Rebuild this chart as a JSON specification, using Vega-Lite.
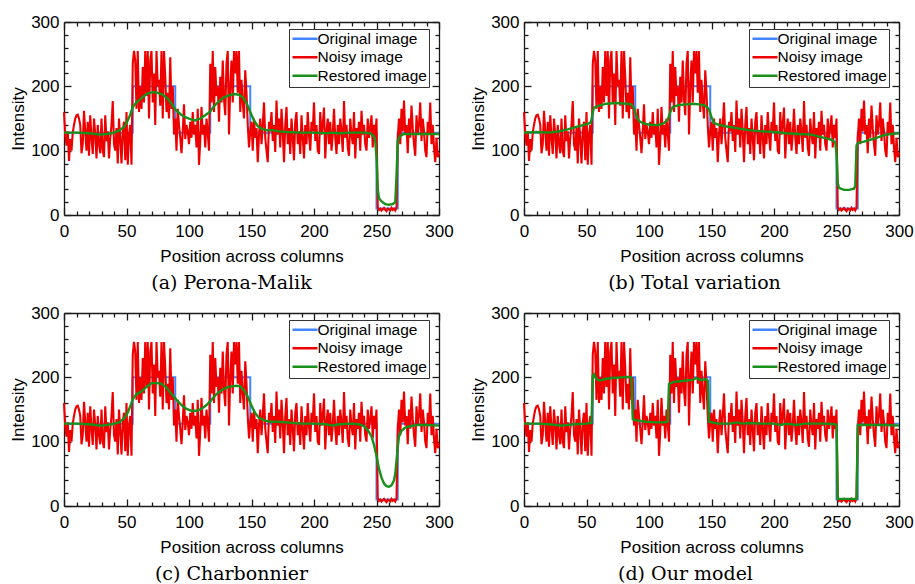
{
  "$schema": "https://vega.github.io/schema/vega-lite/v6.json",
  "background": "white",
  "padding": {"left": 9, "top": 13, "right": 0, "bottom": 0},
  "datasets": {
    "noisy": [
      {"col":0,"val":160},{"col":1,"val":125},{"col":2,"val":108},{"col":3,"val":130},{"col":4,"val":84},{"col":5,"val":118},{"col":6,"val":100},{"col":7,"val":128},{"col":8,"val":140},{"col":9,"val":150},
      {"col":10,"val":155},{"col":11,"val":156},{"col":12,"val":150},{"col":13,"val":140},{"col":14,"val":96},{"col":15,"val":110},{"col":16,"val":162},{"col":17,"val":130},{"col":18,"val":100},{"col":19,"val":145},
      {"col":20,"val":92},{"col":21,"val":155},{"col":22,"val":120},{"col":23,"val":95},{"col":24,"val":150},{"col":25,"val":125},{"col":26,"val":88},{"col":27,"val":140},{"col":28,"val":110},{"col":29,"val":96},
      {"col":30,"val":150},{"col":31,"val":100},{"col":32,"val":90},{"col":33,"val":155},{"col":34,"val":115},{"col":35,"val":130},{"col":36,"val":88},{"col":37,"val":120},{"col":38,"val":140},{"col":39,"val":177},
      {"col":40,"val":110},{"col":41,"val":100},{"col":42,"val":135},{"col":43,"val":80},{"col":44,"val":150},{"col":45,"val":118},{"col":46,"val":80},{"col":47,"val":130},{"col":48,"val":145},{"col":49,"val":85},
      {"col":50,"val":160},{"col":51,"val":78},{"col":52,"val":125},{"col":53,"val":140},{"col":54,"val":78},{"col":55,"val":235},{"col":56,"val":255},{"col":57,"val":240},{"col":58,"val":165},{"col":59,"val":255},
      {"col":60,"val":160},{"col":61,"val":200},{"col":62,"val":165},{"col":63,"val":230},{"col":64,"val":175},{"col":65,"val":255},{"col":66,"val":185},{"col":67,"val":255},{"col":68,"val":150},{"col":69,"val":240},
      {"col":70,"val":255},{"col":71,"val":175},{"col":72,"val":220},{"col":73,"val":140},{"col":74,"val":255},{"col":75,"val":200},{"col":76,"val":210},{"col":77,"val":170},{"col":78,"val":255},{"col":79,"val":150},
      {"col":80,"val":255},{"col":81,"val":215},{"col":82,"val":160},{"col":83,"val":190},{"col":84,"val":150},{"col":85,"val":245},{"col":86,"val":165},{"col":87,"val":200},{"col":88,"val":125},{"col":89,"val":150},
      {"col":90,"val":100},{"col":91,"val":165},{"col":92,"val":140},{"col":93,"val":120},{"col":94,"val":96},{"col":95,"val":130},{"col":96,"val":172},{"col":97,"val":118},{"col":98,"val":140},{"col":99,"val":130},
      {"col":100,"val":110},{"col":101,"val":145},{"col":102,"val":120},{"col":103,"val":160},{"col":104,"val":125},{"col":105,"val":140},{"col":106,"val":105},{"col":107,"val":165},{"col":108,"val":78},{"col":109,"val":115},
      {"col":110,"val":168},{"col":111,"val":125},{"col":112,"val":140},{"col":113,"val":105},{"col":114,"val":150},{"col":115,"val":128},{"col":116,"val":100},{"col":117,"val":235},{"col":118,"val":175},{"col":119,"val":255},
      {"col":120,"val":160},{"col":121,"val":230},{"col":122,"val":185},{"col":123,"val":200},{"col":124,"val":145},{"col":125,"val":215},{"col":126,"val":175},{"col":127,"val":240},{"col":128,"val":180},{"col":129,"val":155},
      {"col":130,"val":235},{"col":131,"val":255},{"col":132,"val":125},{"col":133,"val":200},{"col":134,"val":240},{"col":135,"val":175},{"col":136,"val":255},{"col":137,"val":220},{"col":138,"val":255},{"col":139,"val":190},
      {"col":140,"val":255},{"col":141,"val":160},{"col":142,"val":210},{"col":143,"val":175},{"col":144,"val":150},{"col":145,"val":225},{"col":146,"val":190},{"col":147,"val":140},{"col":148,"val":105},{"col":149,"val":130},
      {"col":150,"val":145},{"col":151,"val":100},{"col":152,"val":150},{"col":153,"val":120},{"col":154,"val":135},{"col":155,"val":82},{"col":156,"val":125},{"col":157,"val":150},{"col":158,"val":110},{"col":159,"val":140},
      {"col":160,"val":175},{"col":161,"val":120},{"col":162,"val":100},{"col":163,"val":82},{"col":164,"val":145},{"col":165,"val":130},{"col":166,"val":160},{"col":167,"val":115},{"col":168,"val":140},{"col":169,"val":98},
      {"col":170,"val":178},{"col":171,"val":125},{"col":172,"val":150},{"col":173,"val":105},{"col":174,"val":165},{"col":175,"val":130},{"col":176,"val":82},{"col":177,"val":140},{"col":178,"val":168},{"col":179,"val":110},
      {"col":180,"val":135},{"col":181,"val":95},{"col":182,"val":150},{"col":183,"val":120},{"col":184,"val":85},{"col":185,"val":145},{"col":186,"val":160},{"col":187,"val":110},{"col":188,"val":130},{"col":189,"val":95},
      {"col":190,"val":155},{"col":191,"val":120},{"col":192,"val":88},{"col":193,"val":140},{"col":194,"val":110},{"col":195,"val":160},{"col":196,"val":125},{"col":197,"val":100},{"col":198,"val":145},{"col":199,"val":130},
      {"col":200,"val":175},{"col":201,"val":115},{"col":202,"val":140},{"col":203,"val":100},{"col":204,"val":95},{"col":205,"val":160},{"col":206,"val":125},{"col":207,"val":140},{"col":208,"val":167},{"col":209,"val":88},
      {"col":210,"val":130},{"col":211,"val":150},{"col":212,"val":110},{"col":213,"val":145},{"col":214,"val":100},{"col":215,"val":125},{"col":216,"val":165},{"col":217,"val":120},{"col":218,"val":95},{"col":219,"val":140},
      {"col":220,"val":110},{"col":221,"val":150},{"col":222,"val":130},{"col":223,"val":98},{"col":224,"val":177},{"col":225,"val":120},{"col":226,"val":140},{"col":227,"val":105},{"col":228,"val":92},{"col":229,"val":150},
      {"col":230,"val":125},{"col":231,"val":110},{"col":232,"val":160},{"col":233,"val":88},{"col":234,"val":135},{"col":235,"val":120},{"col":236,"val":145},{"col":237,"val":100},{"col":238,"val":162},{"col":239,"val":125},
      {"col":240,"val":140},{"col":241,"val":110},{"col":242,"val":100},{"col":243,"val":150},{"col":244,"val":120},{"col":245,"val":135},{"col":246,"val":155},{"col":247,"val":105},{"col":248,"val":140},{"col":249,"val":120},
      {"col":250,"val":150},{"col":251,"val":12},{"col":252,"val":8},{"col":253,"val":10},{"col":254,"val":7},{"col":255,"val":9},{"col":256,"val":11},{"col":257,"val":8},{"col":258,"val":6},{"col":259,"val":10},
      {"col":260,"val":9},{"col":261,"val":7},{"col":262,"val":11},{"col":263,"val":8},{"col":264,"val":10},{"col":265,"val":7},{"col":266,"val":12},{"col":267,"val":120},{"col":268,"val":150},{"col":269,"val":110},
      {"col":270,"val":165},{"col":271,"val":130},{"col":272,"val":178},{"col":273,"val":125},{"col":274,"val":140},{"col":275,"val":96},{"col":276,"val":150},{"col":277,"val":120},{"col":278,"val":170},{"col":279,"val":135},
      {"col":280,"val":110},{"col":281,"val":92},{"col":282,"val":155},{"col":283,"val":125},{"col":284,"val":140},{"col":285,"val":175},{"col":286,"val":115},{"col":287,"val":150},{"col":288,"val":130},{"col":289,"val":100},
      {"col":290,"val":90},{"col":291,"val":145},{"col":292,"val":125},{"col":293,"val":175},{"col":294,"val":110},{"col":295,"val":140},{"col":296,"val":105},{"col":297,"val":82},{"col":298,"val":120},{"col":299,"val":90},
      {"col":300,"val":97}
    ],
    "orig": [
      {"i":0,"col":0,"val":128},{"i":1,"col":55,"val":128},{"i":2,"col":55,"val":200},{"i":3,"col":89,"val":200},{"i":4,"col":89,"val":128},
      {"i":5,"col":117,"val":128},{"i":6,"col":117,"val":200},{"i":7,"col":149,"val":200},{"i":8,"col":149,"val":128},{"i":9,"col":250,"val":128},
      {"i":10,"col":250,"val":10},{"i":11,"col":267,"val":10},{"i":12,"col":267,"val":128},{"i":13,"col":300,"val":128}
    ],
    "pm": [
      {"col":0,"val":128},{"col":10,"val":128},{"col":20,"val":127},{"col":30,"val":125},{"col":38,"val":127},{"col":44,"val":131},{"col":48,"val":137},{"col":51,"val":147},{"col":53,"val":156},{"col":55,"val":168},
      {"col":58,"val":175},{"col":61,"val":180},{"col":64,"val":185},{"col":67,"val":189},{"col":71,"val":191},{"col":75,"val":190},{"col":79,"val":187},{"col":83,"val":181},{"col":86,"val":173},{"col":89,"val":164},
      {"col":93,"val":157},{"col":97,"val":152},{"col":101,"val":149},{"col":105,"val":147},{"col":109,"val":150},{"col":113,"val":155},{"col":117,"val":161},{"col":120,"val":169},{"col":124,"val":177},{"col":128,"val":183},
      {"col":132,"val":186},{"col":136,"val":188},{"col":140,"val":187},{"col":143,"val":183},{"col":146,"val":174},{"col":149,"val":160},{"col":152,"val":147},{"col":155,"val":138},{"col":158,"val":134},{"col":162,"val":132},
      {"col":167,"val":132},{"col":172,"val":130},{"col":178,"val":129},{"col":190,"val":128},{"col":200,"val":128},{"col":210,"val":127},{"col":215,"val":128},{"col":220,"val":127},{"col":230,"val":128},{"col":240,"val":128},
      {"col":245,"val":127},{"col":248,"val":122},{"col":249,"val":115},{"col":250,"val":90},{"col":251,"val":40},{"col":252,"val":26},{"col":254,"val":21},{"col":257,"val":17},{"col":260,"val":16},{"col":263,"val":17},
      {"col":265,"val":20},{"col":266,"val":60},{"col":267,"val":115},{"col":269,"val":123},{"col":272,"val":126},{"col":280,"val":126},{"col":290,"val":126},{"col":300,"val":126}
    ],
    "tv": [
      {"col":0,"val":128},{"col":10,"val":129},{"col":20,"val":128},{"col":28,"val":130},{"col":35,"val":133},{"col":42,"val":137},{"col":48,"val":140},{"col":53,"val":143},{"col":54,"val":148},{"col":55,"val":160},
      {"col":56,"val":167},{"col":60,"val":170},{"col":66,"val":173},{"col":74,"val":174},{"col":82,"val":173},{"col":86,"val":172},{"col":88,"val":166},{"col":90,"val":153},{"col":92,"val":146},{"col":96,"val":142},
      {"col":102,"val":140},{"col":108,"val":140},{"col":112,"val":143},{"col":115,"val":148},{"col":117,"val":160},{"col":119,"val":168},{"col":124,"val":171},{"col":130,"val":172},{"col":135,"val":173},{"col":140,"val":172},
      {"col":145,"val":170},{"col":148,"val":164},{"col":150,"val":152},{"col":152,"val":143},{"col":156,"val":140},{"col":161,"val":138},{"col":170,"val":135},{"col":180,"val":132},{"col":190,"val":130},{"col":200,"val":129},
      {"col":210,"val":127},{"col":220,"val":126},{"col":230,"val":125},{"col":240,"val":120},{"col":246,"val":117},{"col":249,"val":113},{"col":250,"val":95},{"col":251,"val":50},{"col":252,"val":42},{"col":256,"val":39},
      {"col":260,"val":39},{"col":264,"val":41},{"col":265,"val":45},{"col":266,"val":108},{"col":267,"val":112},{"col":272,"val":114},{"col":277,"val":117},{"col":282,"val":120},{"col":288,"val":124},{"col":294,"val":126},
      {"col":300,"val":127}
    ],
    "ch": [
      {"col":0,"val":128},{"col":10,"val":128},{"col":20,"val":127},{"col":30,"val":125},{"col":38,"val":127},{"col":44,"val":130},{"col":48,"val":136},{"col":51,"val":145},{"col":53,"val":155},{"col":55,"val":166},
      {"col":58,"val":174},{"col":62,"val":178},{"col":66,"val":185},{"col":70,"val":191},{"col":74,"val":191},{"col":78,"val":190},{"col":82,"val":184},{"col":86,"val":174},{"col":90,"val":165},{"col":94,"val":157},
      {"col":98,"val":151},{"col":102,"val":148},{"col":106,"val":148},{"col":110,"val":151},{"col":114,"val":157},{"col":118,"val":165},{"col":122,"val":174},{"col":126,"val":180},{"col":130,"val":184},{"col":134,"val":186},
      {"col":138,"val":187},{"col":141,"val":186},{"col":144,"val":180},{"col":147,"val":170},{"col":150,"val":156},{"col":153,"val":144},{"col":156,"val":137},{"col":160,"val":133},{"col":165,"val":131},{"col":170,"val":131},
      {"col":178,"val":130},{"col":190,"val":128},{"col":200,"val":128},{"col":210,"val":127},{"col":215,"val":125},{"col":220,"val":127},{"col":230,"val":128},{"col":236,"val":127},{"col":240,"val":124},{"col":243,"val":118},
      {"col":246,"val":108},{"col":248,"val":95},{"col":250,"val":78},{"col":252,"val":58},{"col":254,"val":44},{"col":256,"val":35},{"col":258,"val":31},{"col":260,"val":30},{"col":262,"val":32},{"col":264,"val":40},
      {"col":265,"val":50},{"col":266,"val":70},{"col":267,"val":92},{"col":268,"val":108},{"col":270,"val":117},{"col":273,"val":122},{"col":277,"val":124},{"col":283,"val":126},{"col":290,"val":126},{"col":300,"val":125}
    ],
    "ours": [
      {"col":0,"val":128},{"col":10,"val":128},{"col":20,"val":127},{"col":30,"val":125},{"col":40,"val":127},{"col":50,"val":128},{"col":54,"val":129},{"col":55,"val":203},{"col":56,"val":205},{"col":58,"val":197},
      {"col":61,"val":195},{"col":64,"val":197},{"col":70,"val":199},{"col":78,"val":200},{"col":85,"val":201},{"col":86,"val":199},{"col":87,"val":135},{"col":90,"val":133},{"col":98,"val":131},{"col":105,"val":130},
      {"col":112,"val":130},{"col":115,"val":131},{"col":116,"val":190},{"col":120,"val":193},{"col":125,"val":194},{"col":130,"val":195},{"col":135,"val":196},{"col":138,"val":199},{"col":141,"val":196},{"col":146,"val":197},
      {"col":147,"val":195},{"col":148,"val":131},{"col":155,"val":128},{"col":165,"val":128},{"col":170,"val":130},{"col":175,"val":128},{"col":180,"val":129},{"col":190,"val":128},{"col":200,"val":128},{"col":205,"val":126},
      {"col":210,"val":128},{"col":218,"val":126},{"col":225,"val":128},{"col":240,"val":128},{"col":249,"val":127},{"col":250,"val":126},{"col":251,"val":11},{"col":258,"val":11},{"col":266,"val":11},{"col":267,"val":126},
      {"col":275,"val":126},{"col":290,"val":126},{"col":300,"val":125}
    ]
  },
  "columns": 2,
  "spacing": {"row": 98, "column": 85},
  "bounds": "flush",
  "resolve": {"scale": {"color": "independent"}},
  "concat": [
    {
      "width": 375, "height": 193,
      "title": {"text": "(a) Perona-Malik", "dx": -20},
      "layer": [
        {"data": {"name": "orig"}, "mark": {"type": "line", "strokeWidth": 2},
         "encoding": {
           "x": {"field": "col", "type": "quantitative", "scale": {"domain": [0, 300], "nice": false},
                 "axis": {"orient": "bottom", "values": [0,10,20,30,40,50,60,70,80,90,100,110,120,130,140,150,160,170,180,190,200,210,220,230,240,250,260,270,280,290,300], "labelExpr": "datum.value % 50 === 0 ? datum.label : ''", "tickSize": {"condition": {"test": "datum.value % 50 === 0", "value": -7}, "value": -4}, "labelPadding": 15, "title": "Position across columns", "titlePadding": 6}},
           "y": {"field": "val", "type": "quantitative", "scale": {"domain": [0, 300], "nice": false},
                 "axis": {"orient": "left", "values": [0,20,40,60,80,100,120,140,160,180,200,220,240,260,280,300], "labelExpr": "datum.value % 100 === 0 ? datum.label : ''", "tickSize": {"condition": {"test": "datum.value % 100 === 0", "value": -7}, "value": -4}, "labelPadding": 12, "title": "Intensity", "titlePadding": 3}},
           "order": {"field": "i"},
           "color": {"datum": "Original image", "type": "nominal"}
         }},
        {"data": {"name": "noisy"}, "mark": {"type": "line", "strokeWidth": 2.1},
         "encoding": {
           "x": {"field": "col", "type": "quantitative", "axis": {"orient": "top", "values": [0,10,20,30,40,50,60,70,80,90,100,110,120,130,140,150,160,170,180,190,200,210,220,230,240,250,260,270,280,290,300], "labels": false, "tickSize": {"condition": {"test": "datum.value % 50 === 0", "value": -7}, "value": -4}, "title": null}},
           "y": {"field": "val", "type": "quantitative", "axis": {"orient": "right", "values": [0,20,40,60,80,100,120,140,160,180,200,220,240,260,280,300], "labels": false, "tickSize": {"condition": {"test": "datum.value % 100 === 0", "value": -7}, "value": -4}, "title": null}},
           "color": {"datum": "Noisy image", "type": "nominal"}
         }},
        {"data": {"name": "pm"}, "mark": {"type": "line", "strokeWidth": 2.4},
         "encoding": {
           "x": {"field": "col", "type": "quantitative", "axis": null},
           "y": {"field": "val", "type": "quantitative", "axis": null},
           "color": {"datum": "Restored image", "type": "nominal", "scale": {"domain": ["Original image", "Noisy image", "Restored image"], "range": ["#4285ff", "#ee0000", "#18901a"]}}
         }}
      ],
      "resolve": {"axis": {"x": "independent", "y": "independent"}}
    },
    {
      "width": 375, "height": 193,
      "title": {"text": "(b) Total variation", "dx": -17},
      "layer": [
        {"data": {"name": "orig"}, "mark": {"type": "line", "strokeWidth": 2},
         "encoding": {
           "x": {"field": "col", "type": "quantitative", "scale": {"domain": [0, 300], "nice": false},
                 "axis": {"orient": "bottom", "values": [0,10,20,30,40,50,60,70,80,90,100,110,120,130,140,150,160,170,180,190,200,210,220,230,240,250,260,270,280,290,300], "labelExpr": "datum.value % 50 === 0 ? datum.label : ''", "tickSize": {"condition": {"test": "datum.value % 50 === 0", "value": -7}, "value": -4}, "labelPadding": 15, "title": "Position across columns", "titlePadding": 6}},
           "y": {"field": "val", "type": "quantitative", "scale": {"domain": [0, 300], "nice": false},
                 "axis": {"orient": "left", "values": [0,20,40,60,80,100,120,140,160,180,200,220,240,260,280,300], "labelExpr": "datum.value % 100 === 0 ? datum.label : ''", "tickSize": {"condition": {"test": "datum.value % 100 === 0", "value": -7}, "value": -4}, "labelPadding": 12, "title": "Intensity", "titlePadding": 3}},
           "order": {"field": "i"},
           "color": {"datum": "Original image", "type": "nominal"}
         }},
        {"data": {"name": "noisy"}, "mark": {"type": "line", "strokeWidth": 2.1},
         "encoding": {
           "x": {"field": "col", "type": "quantitative", "axis": {"orient": "top", "values": [0,10,20,30,40,50,60,70,80,90,100,110,120,130,140,150,160,170,180,190,200,210,220,230,240,250,260,270,280,290,300], "labels": false, "tickSize": {"condition": {"test": "datum.value % 50 === 0", "value": -7}, "value": -4}, "title": null}},
           "y": {"field": "val", "type": "quantitative", "axis": {"orient": "right", "values": [0,20,40,60,80,100,120,140,160,180,200,220,240,260,280,300], "labels": false, "tickSize": {"condition": {"test": "datum.value % 100 === 0", "value": -7}, "value": -4}, "title": null}},
           "color": {"datum": "Noisy image", "type": "nominal"}
         }},
        {"data": {"name": "tv"}, "mark": {"type": "line", "strokeWidth": 2.4},
         "encoding": {
           "x": {"field": "col", "type": "quantitative", "axis": null},
           "y": {"field": "val", "type": "quantitative", "axis": null},
           "color": {"datum": "Restored image", "type": "nominal", "scale": {"domain": ["Original image", "Noisy image", "Restored image"], "range": ["#4285ff", "#ee0000", "#18901a"]}}
         }}
      ],
      "resolve": {"axis": {"x": "independent", "y": "independent"}}
    },
    {
      "width": 375, "height": 193,
      "title": {"text": "(c) Charbonnier", "dx": -20},
      "layer": [
        {"data": {"name": "orig"}, "mark": {"type": "line", "strokeWidth": 2},
         "encoding": {
           "x": {"field": "col", "type": "quantitative", "scale": {"domain": [0, 300], "nice": false},
                 "axis": {"orient": "bottom", "values": [0,10,20,30,40,50,60,70,80,90,100,110,120,130,140,150,160,170,180,190,200,210,220,230,240,250,260,270,280,290,300], "labelExpr": "datum.value % 50 === 0 ? datum.label : ''", "tickSize": {"condition": {"test": "datum.value % 50 === 0", "value": -7}, "value": -4}, "labelPadding": 15, "title": "Position across columns", "titlePadding": 6}},
           "y": {"field": "val", "type": "quantitative", "scale": {"domain": [0, 300], "nice": false},
                 "axis": {"orient": "left", "values": [0,20,40,60,80,100,120,140,160,180,200,220,240,260,280,300], "labelExpr": "datum.value % 100 === 0 ? datum.label : ''", "tickSize": {"condition": {"test": "datum.value % 100 === 0", "value": -7}, "value": -4}, "labelPadding": 12, "title": "Intensity", "titlePadding": 3}},
           "order": {"field": "i"},
           "color": {"datum": "Original image", "type": "nominal"}
         }},
        {"data": {"name": "noisy"}, "mark": {"type": "line", "strokeWidth": 2.1},
         "encoding": {
           "x": {"field": "col", "type": "quantitative", "axis": {"orient": "top", "values": [0,10,20,30,40,50,60,70,80,90,100,110,120,130,140,150,160,170,180,190,200,210,220,230,240,250,260,270,280,290,300], "labels": false, "tickSize": {"condition": {"test": "datum.value % 50 === 0", "value": -7}, "value": -4}, "title": null}},
           "y": {"field": "val", "type": "quantitative", "axis": {"orient": "right", "values": [0,20,40,60,80,100,120,140,160,180,200,220,240,260,280,300], "labels": false, "tickSize": {"condition": {"test": "datum.value % 100 === 0", "value": -7}, "value": -4}, "title": null}},
           "color": {"datum": "Noisy image", "type": "nominal"}
         }},
        {"data": {"name": "ch"}, "mark": {"type": "line", "strokeWidth": 2.4},
         "encoding": {
           "x": {"field": "col", "type": "quantitative", "axis": null},
           "y": {"field": "val", "type": "quantitative", "axis": null},
           "color": {"datum": "Restored image", "type": "nominal", "scale": {"domain": ["Original image", "Noisy image", "Restored image"], "range": ["#4285ff", "#ee0000", "#18901a"]}}
         }}
      ],
      "resolve": {"axis": {"x": "independent", "y": "independent"}}
    },
    {
      "width": 375, "height": 193,
      "title": {"text": "(d) Our model", "dx": -26},
      "layer": [
        {"data": {"name": "orig"}, "mark": {"type": "line", "strokeWidth": 2},
         "encoding": {
           "x": {"field": "col", "type": "quantitative", "scale": {"domain": [0, 300], "nice": false},
                 "axis": {"orient": "bottom", "values": [0,10,20,30,40,50,60,70,80,90,100,110,120,130,140,150,160,170,180,190,200,210,220,230,240,250,260,270,280,290,300], "labelExpr": "datum.value % 50 === 0 ? datum.label : ''", "tickSize": {"condition": {"test": "datum.value % 50 === 0", "value": -7}, "value": -4}, "labelPadding": 15, "title": "Position across columns", "titlePadding": 6}},
           "y": {"field": "val", "type": "quantitative", "scale": {"domain": [0, 300], "nice": false},
                 "axis": {"orient": "left", "values": [0,20,40,60,80,100,120,140,160,180,200,220,240,260,280,300], "labelExpr": "datum.value % 100 === 0 ? datum.label : ''", "tickSize": {"condition": {"test": "datum.value % 100 === 0", "value": -7}, "value": -4}, "labelPadding": 12, "title": "Intensity", "titlePadding": 3}},
           "order": {"field": "i"},
           "color": {"datum": "Original image", "type": "nominal"}
         }},
        {"data": {"name": "noisy"}, "mark": {"type": "line", "strokeWidth": 2.1},
         "encoding": {
           "x": {"field": "col", "type": "quantitative", "axis": {"orient": "top", "values": [0,10,20,30,40,50,60,70,80,90,100,110,120,130,140,150,160,170,180,190,200,210,220,230,240,250,260,270,280,290,300], "labels": false, "tickSize": {"condition": {"test": "datum.value % 50 === 0", "value": -7}, "value": -4}, "title": null}},
           "y": {"field": "val", "type": "quantitative", "axis": {"orient": "right", "values": [0,20,40,60,80,100,120,140,160,180,200,220,240,260,280,300], "labels": false, "tickSize": {"condition": {"test": "datum.value % 100 === 0", "value": -7}, "value": -4}, "title": null}},
           "color": {"datum": "Noisy image", "type": "nominal"}
         }},
        {"data": {"name": "ours"}, "mark": {"type": "line", "strokeWidth": 2.4},
         "encoding": {
           "x": {"field": "col", "type": "quantitative", "axis": null},
           "y": {"field": "val", "type": "quantitative", "axis": null},
           "color": {"datum": "Restored image", "type": "nominal", "scale": {"domain": ["Original image", "Noisy image", "Restored image"], "range": ["#4285ff", "#ee0000", "#18901a"]}}
         }}
      ],
      "resolve": {"axis": {"x": "independent", "y": "independent"}}
    }
  ],
  "config": {
    "view": {"stroke": null},
    "axis": {
      "domainColor": "#1a1a1a", "domainWidth": 1.3, "tickColor": "#1a1a1a", "tickWidth": 1.3,
      "labelFont": "Liberation Sans", "labelFontSize": 17, "labelColor": "black",
      "titleFont": "Liberation Sans", "titleFontSize": 17, "titleFontWeight": "normal", "titleColor": "black",
      "grid": false, "labelFlush": false, "labelOverlap": false
    },
    "legend": {
      "orient": "none", "legendX": 225, "legendY": 7, "title": null,
      "symbolType": "M-1,0H3", "symbolSize": 156, "symbolStrokeWidth": 2.5, "labelOffset": 11,
      "labelFont": "Liberation Sans", "labelFontSize": 15.5, "labelColor": "black",
      "strokeColor": "#333", "fillColor": "white", "padding": 2, "rowPadding": 1.5, "labelLimit": 300
    },
    "title": {"orient": "bottom", "font": "DejaVu Serif", "fontSize": 19, "fontWeight": "normal", "color": "black", "offset": 10, "anchor": "middle"}
  }
}
